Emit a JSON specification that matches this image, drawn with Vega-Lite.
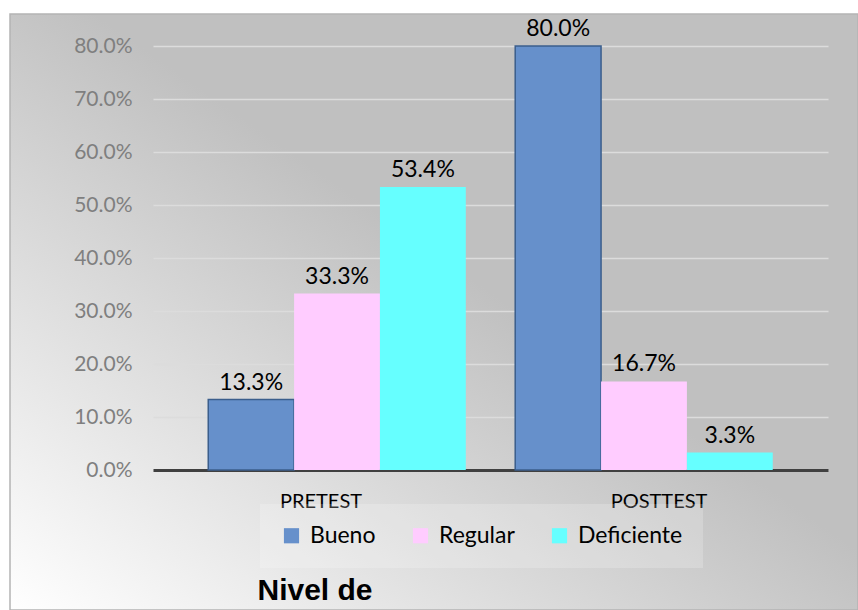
{
  "$schema": "https://vega.github.io/schema/vega-lite/v6.json",
  "width": 848,
  "height": 596,
  "autosize": "none",
  "padding": {"left": 10, "top": 14, "right": 0, "bottom": 0},
  "background": "white",
  "view": {
    "fill": {"gradient": "linear", "x1": 0, "y1": 1, "x2": 0.55, "y2": 0.45,
      "stops": [{"offset": 0, "color": "#ffffff"}, {"offset": 1, "color": "#c0c0c0"}]},
    "stroke": "#b4b4b4",
    "strokeWidth": 1.5
  },
  "data": {
    "values": [
      {"test": "PRETEST", "nivel": "Bueno", "pct": 0.133},
      {"test": "PRETEST", "nivel": "Regular", "pct": 0.333},
      {"test": "PRETEST", "nivel": "Deficiente", "pct": 0.534},
      {"test": "POSTTEST", "nivel": "Bueno", "pct": 0.8},
      {"test": "POSTTEST", "nivel": "Regular", "pct": 0.167},
      {"test": "POSTTEST", "nivel": "Deficiente", "pct": 0.033}
    ]
  },
  "encoding": {
    "x": {
      "field": "test", "type": "nominal", "sort": ["PRETEST", "POSTTEST"],
      "scale": {"range": [143, 818], "paddingInner": 0.161, "paddingOuter": 0.18},
      "axis": {
        "orient": "bottom", "offset": -140,
        "domainColor": "#404040", "domainWidth": 3,
        "ticks": false, "grid": false,
        "labelFont": "Lato", "labelFontSize": 20, "labelColor": "black",
        "labelPadding": 21, "labelAngle": 0,
        "labelOffset": {"condition": {"test": "datum.value === 'PRETEST'", "value": -16}, "value": 15},
        "title": "Nivel de", "titleFont": "Liberation Sans", "titleFontSize": 30,
        "titleFontWeight": "bold", "titleColor": "black",
        "titleX": 247, "titleY": 129, "titleAlign": "left", "titleAnchor": "start",
        "titleBaseline": "alphabetic"
      }
    },
    "xOffset": {"field": "nivel", "type": "nominal", "sort": ["Bueno", "Regular", "Deficiente"],
      "scale": {"paddingInner": 0, "paddingOuter": 0}},
    "y": {
      "field": "pct", "type": "quantitative",
      "scale": {"domain": [0, 0.8], "range": [456, 32], "nice": false},
      "axis": {
        "values": [0, 0.1, 0.2, 0.3, 0.4, 0.5, 0.6, 0.7, 0.8],
        "format": ".1%", "offset": -143,
        "labelFont": "Lato", "labelFontSize": 21, "labelColor": "#7f7f7f",
        "labelPadding": 21, "domain": false, "ticks": false,
        "grid": true, "gridColor": "#dcdcdc", "gridWidth": 1.5,
        "title": null
      }
    }
  },
  "layer": [
    {
      "mark": {"type": "bar", "strokeWidth": 1.5},
      "encoding": {
        "fill": {
          "field": "nivel", "type": "nominal",
          "scale": {"domain": ["Bueno", "Regular", "Deficiente"], "range": ["#6690cb", "#ffccff", "#66ffff"]},
          "legend": {
            "orient": "none", "legendX": 250, "legendY": 490, "direction": "horizontal",
            "title": null, "symbolType": "square", "symbolSize": 230,
            "labelFont": "Lato", "labelFontSize": 23, "labelColor": "black",
            "columnPadding": 33, "labelOffset": 7,
            "fillColor": "rgba(255,255,255,0.2)", "padding": 20
          }
        },
        "stroke": {"condition": {"test": "datum.nivel === 'Bueno'", "value": "#3b5e8c"}, "value": null}
      }
    },
    {
      "mark": {"type": "text", "baseline": "alphabetic", "dy": -10, "fontSize": 23, "font": "Lato", "color": "black"},
      "encoding": {
        "text": {"field": "pct", "type": "quantitative", "format": ".1%"}
      }
    }
  ]
}
